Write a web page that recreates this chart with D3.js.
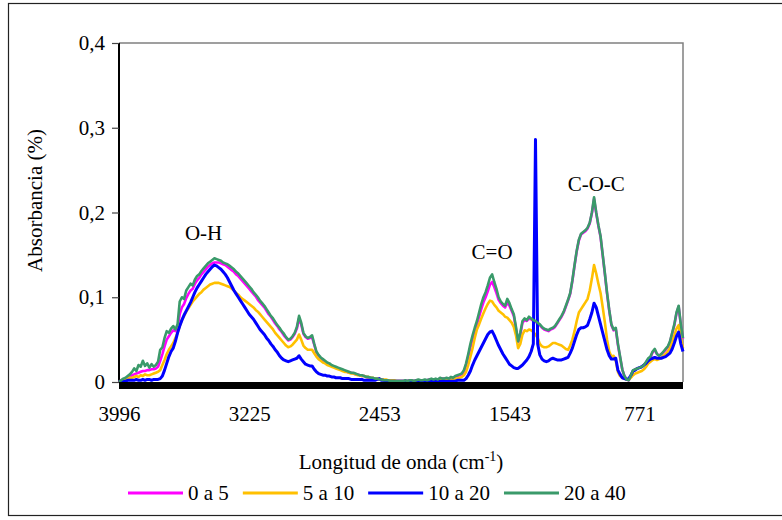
<!DOCTYPE html>
<html>
<head>
<meta charset="utf-8">
<script src="https://cdn.jsdelivr.net/npm/d3@7"></script>
<style>
  body { margin: 0; background: #fff; }
  text { font-family: "Liberation Serif", "Times New Roman", serif; fill: #000; }
</style>
</head>
<body>
<div id="chart"></div>
<script>
// FTIR spectra, absorbance per wavenumber category
const seriesNames = ["0 a 5", "5 a 10", "10 a 20", "20 a 40"];
const seriesColors = ["#ff00ff", "#ffc000", "#0000ff", "#3a9a6a"];

const absorb0a5 = [
  0.000, 0.002, 0.003, 0.004, 0.005, 0.006, 0.008, 0.009, 0.010, 0.011,
  0.012, 0.013, 0.013, 0.014, 0.014, 0.015, 0.015, 0.016, 0.018, 0.025,
  0.033, 0.042, 0.050, 0.054, 0.058, 0.061, 0.060, 0.065, 0.080, 0.088,
  0.092, 0.099, 0.104, 0.108, 0.110, 0.116, 0.120, 0.123, 0.127, 0.130,
  0.133, 0.136, 0.138, 0.140, 0.141, 0.141, 0.141, 0.140, 0.139, 0.138,
  0.136, 0.134, 0.132, 0.130, 0.127, 0.125, 0.122, 0.119, 0.116, 0.113,
  0.110, 0.107, 0.104, 0.101, 0.097, 0.094, 0.091, 0.088, 0.084, 0.080,
  0.077, 0.073, 0.069, 0.066, 0.062, 0.059, 0.055, 0.052, 0.049, 0.050,
  0.053, 0.057, 0.063, 0.075, 0.068, 0.057, 0.053, 0.051, 0.052, 0.053,
  0.044, 0.035, 0.031, 0.028, 0.026, 0.024, 0.022, 0.021, 0.019, 0.018,
  0.017, 0.016, 0.015, 0.014, 0.013, 0.012, 0.011, 0.011, 0.010, 0.009,
  0.009, 0.008, 0.007, 0.007, 0.006, 0.005, 0.005, 0.004, 0.004, 0.003,
  0.003, 0.003, 0.002, 0.002, 0.002, 0.001, 0.001, 0.001, 0.001, 0.001,
  0.001, 0.001, 0.001, 0.001, 0.002, 0.001, 0.001, 0.002, 0.002, 0.002,
  0.002, 0.002, 0.002, 0.003, 0.003, 0.003, 0.003, 0.003, 0.004, 0.004,
  0.004, 0.004, 0.004, 0.005, 0.005, 0.006, 0.007, 0.008, 0.009, 0.012,
  0.020, 0.030, 0.041, 0.051, 0.060, 0.068, 0.077, 0.086, 0.094, 0.100,
  0.107, 0.115, 0.118, 0.112, 0.105, 0.097, 0.093, 0.090, 0.088, 0.094,
  0.090, 0.084, 0.078, 0.063, 0.047, 0.056, 0.070, 0.073, 0.072, 0.075,
  0.074, 0.072, 0.071, 0.069, 0.067, 0.064, 0.062, 0.061, 0.060, 0.062,
  0.063, 0.065, 0.069, 0.073, 0.077, 0.082, 0.089, 0.096, 0.104, 0.119,
  0.137, 0.154, 0.167, 0.174, 0.176, 0.178, 0.181, 0.187, 0.199, 0.216,
  0.199, 0.184, 0.171, 0.149, 0.127, 0.104, 0.084, 0.067, 0.061, 0.063,
  0.044, 0.029, 0.015, 0.007, 0.003, 0.002, 0.008, 0.013, 0.015, 0.016,
  0.017, 0.018, 0.020, 0.023, 0.027, 0.029, 0.035, 0.038, 0.033, 0.031,
  0.033, 0.035, 0.038, 0.041, 0.047, 0.057, 0.067, 0.081, 0.089, 0.067,
  0.051
];

const absorb5a10 = [
  0.000, 0.001, 0.002, 0.003, 0.004, 0.005, 0.005, 0.006, 0.007, 0.006,
  0.008, 0.007, 0.009, 0.008, 0.008, 0.009, 0.010, 0.011, 0.012, 0.014,
  0.020, 0.026, 0.033, 0.038, 0.042, 0.046, 0.052, 0.058, 0.066, 0.073,
  0.078, 0.083, 0.087, 0.091, 0.095, 0.098, 0.101, 0.104, 0.106, 0.109,
  0.111, 0.113, 0.115, 0.116, 0.117, 0.117, 0.117, 0.116, 0.115, 0.114,
  0.113, 0.112, 0.110, 0.108, 0.105, 0.103, 0.100, 0.098, 0.096, 0.094,
  0.092, 0.090, 0.088, 0.085, 0.083, 0.080, 0.077, 0.074, 0.071, 0.068,
  0.065, 0.062, 0.058, 0.055, 0.052, 0.049, 0.046, 0.043, 0.041, 0.042,
  0.044, 0.047, 0.050, 0.056, 0.050, 0.043, 0.040, 0.038, 0.038, 0.038,
  0.034, 0.030, 0.027, 0.025, 0.023, 0.022, 0.020, 0.019, 0.018, 0.017,
  0.016, 0.015, 0.014, 0.013, 0.012, 0.012, 0.011, 0.010, 0.010, 0.009,
  0.008, 0.008, 0.007, 0.007, 0.006, 0.006, 0.005, 0.005, 0.004, 0.004,
  0.004, 0.003, 0.003, 0.003, 0.002, 0.002, 0.002, 0.002, 0.001, 0.001,
  0.001, 0.001, 0.001, 0.001, 0.001, 0.001, 0.001, 0.001, 0.002, 0.001,
  0.001, 0.002, 0.001, 0.002, 0.002, 0.002, 0.002, 0.002, 0.002, 0.002,
  0.002, 0.002, 0.003, 0.003, 0.003, 0.004, 0.004, 0.005, 0.006, 0.008,
  0.012, 0.020, 0.030, 0.040, 0.052, 0.062, 0.068, 0.075, 0.081, 0.087,
  0.092, 0.096, 0.095, 0.091, 0.088, 0.084, 0.082, 0.080, 0.077, 0.076,
  0.073, 0.070, 0.065, 0.055, 0.040, 0.045, 0.056, 0.061, 0.060, 0.062,
  0.061, 0.059, 0.056, 0.052, 0.045, 0.042, 0.041, 0.041, 0.042, 0.044,
  0.046, 0.046, 0.045, 0.044, 0.043, 0.041, 0.039, 0.038, 0.043, 0.050,
  0.060, 0.072, 0.082, 0.086, 0.090, 0.094, 0.098, 0.108, 0.122, 0.138,
  0.128, 0.116, 0.105, 0.088, 0.070, 0.050, 0.036, 0.030, 0.031, 0.025,
  0.012, 0.007, 0.005, 0.004, 0.003, 0.003, 0.005, 0.008, 0.010, 0.011,
  0.012, 0.013, 0.015, 0.018, 0.022, 0.024, 0.026, 0.027, 0.026, 0.027,
  0.029, 0.031, 0.033, 0.036, 0.040, 0.047, 0.055, 0.063, 0.067, 0.052,
  0.040
];

const absorb10a20 = [
  0.000, 0.001, 0.001, 0.001, 0.002, 0.002, 0.002, 0.002, 0.003, 0.002,
  0.002, 0.003, 0.002, 0.003, 0.003, 0.002, 0.003, 0.003, 0.003, 0.004,
  0.007, 0.014, 0.022, 0.030, 0.036, 0.040, 0.048, 0.058, 0.066, 0.073,
  0.079, 0.084, 0.089, 0.094, 0.100, 0.106, 0.111, 0.115, 0.119, 0.123,
  0.127, 0.130, 0.133, 0.136, 0.138, 0.137, 0.135, 0.133, 0.130, 0.127,
  0.123, 0.118, 0.113, 0.108, 0.104, 0.100, 0.096, 0.092, 0.088, 0.084,
  0.080, 0.077, 0.074, 0.070, 0.066, 0.062, 0.059, 0.056, 0.052, 0.049,
  0.045, 0.042, 0.038, 0.035, 0.031, 0.028, 0.026, 0.025, 0.024, 0.025,
  0.026, 0.027, 0.028, 0.031, 0.027, 0.024, 0.021, 0.020, 0.019, 0.019,
  0.015, 0.012, 0.010, 0.009, 0.008, 0.008, 0.007, 0.007, 0.006, 0.006,
  0.005, 0.005, 0.005, 0.004, 0.004, 0.004, 0.004, 0.003, 0.003, 0.003,
  0.003, 0.003, 0.003, 0.002, 0.002, 0.002, 0.002, 0.002, 0.002, 0.003,
  0.004, 0.002, 0.002, 0.001, 0.001, 0.001, 0.001, 0.001, 0.001, 0.001,
  0.001, 0.001, 0.001, 0.001, 0.001, 0.001, 0.001, 0.001, 0.001, 0.001,
  0.001, 0.001, 0.001, 0.001, 0.001, 0.001, 0.001, 0.001, 0.001, 0.001,
  0.001, 0.001, 0.001, 0.001, 0.001, 0.001, 0.002, 0.002, 0.002, 0.002,
  0.004, 0.008, 0.013, 0.020, 0.026, 0.031, 0.036, 0.041, 0.046, 0.051,
  0.056, 0.059, 0.060, 0.055, 0.049, 0.043, 0.038, 0.033, 0.029, 0.025,
  0.021, 0.019, 0.017, 0.016, 0.016, 0.018, 0.020, 0.023, 0.026, 0.030,
  0.036, 0.045, 0.286, 0.045, 0.032, 0.027, 0.025, 0.024, 0.025, 0.027,
  0.028, 0.027, 0.026, 0.026, 0.026, 0.027, 0.028, 0.029, 0.034, 0.040,
  0.048, 0.056, 0.062, 0.064, 0.064, 0.065, 0.067, 0.074, 0.082, 0.093,
  0.088, 0.078, 0.068, 0.058, 0.048, 0.038, 0.031, 0.027, 0.027, 0.028,
  0.014, 0.009, 0.005, 0.004, 0.003, 0.004, 0.008, 0.013, 0.014, 0.016,
  0.017, 0.018, 0.020, 0.022, 0.025, 0.027, 0.028, 0.029, 0.028, 0.028,
  0.028, 0.029, 0.030, 0.032, 0.034, 0.039, 0.046, 0.054, 0.059, 0.045,
  0.036
];

const absorb20a40 = [
  0.000, 0.002, 0.004, 0.005, 0.007, 0.009, 0.012, 0.016, 0.013, 0.020,
  0.018, 0.025, 0.019, 0.022, 0.017, 0.021, 0.018, 0.020, 0.024, 0.038,
  0.041, 0.052, 0.060, 0.058, 0.063, 0.066, 0.062, 0.068, 0.095, 0.100,
  0.098, 0.108, 0.112, 0.116, 0.114, 0.121, 0.125, 0.127, 0.131, 0.134,
  0.137, 0.140, 0.142, 0.144, 0.146, 0.145, 0.144, 0.143, 0.141, 0.140,
  0.139, 0.137, 0.135, 0.133, 0.130, 0.128, 0.125, 0.122, 0.119, 0.116,
  0.113, 0.110, 0.106, 0.103, 0.100, 0.096, 0.093, 0.090, 0.086, 0.082,
  0.078, 0.075, 0.071, 0.067, 0.064, 0.060, 0.057, 0.053, 0.050, 0.051,
  0.054, 0.058, 0.065, 0.078, 0.070, 0.058, 0.054, 0.052, 0.053, 0.055,
  0.045, 0.036, 0.032, 0.029, 0.027, 0.025, 0.023, 0.022, 0.020, 0.019,
  0.018, 0.017, 0.016, 0.015, 0.014, 0.013, 0.012, 0.011, 0.011, 0.010,
  0.009, 0.008, 0.008, 0.007, 0.006, 0.006, 0.005, 0.005, 0.004, 0.004,
  0.003, 0.003, 0.002, 0.002, 0.002, 0.001, 0.001, 0.001, 0.001, 0.001,
  0.001, 0.001, 0.002, 0.001, 0.002, 0.002, 0.001, 0.002, 0.003, 0.002,
  0.002, 0.003, 0.002, 0.003, 0.004, 0.003, 0.004, 0.003, 0.005, 0.004,
  0.004, 0.005, 0.004, 0.006, 0.005, 0.007, 0.008, 0.009, 0.010, 0.014,
  0.022, 0.033, 0.045, 0.055, 0.064, 0.072, 0.082, 0.092, 0.100, 0.106,
  0.114, 0.123, 0.127, 0.118, 0.110, 0.100, 0.095, 0.092, 0.090, 0.098,
  0.093, 0.086, 0.080, 0.065, 0.048, 0.058, 0.072, 0.075, 0.073, 0.077,
  0.075, 0.073, 0.072, 0.070, 0.068, 0.065, 0.063, 0.062, 0.061, 0.063,
  0.064, 0.066, 0.070, 0.074, 0.078, 0.083, 0.090, 0.097, 0.105, 0.120,
  0.138, 0.155, 0.168, 0.175, 0.177, 0.179, 0.182, 0.188, 0.200, 0.218,
  0.200, 0.185, 0.172, 0.150, 0.128, 0.105, 0.085, 0.068, 0.062, 0.064,
  0.045, 0.030, 0.015, 0.007, 0.003, 0.002, 0.008, 0.014, 0.015, 0.016,
  0.017, 0.018, 0.020, 0.024, 0.028, 0.030, 0.036, 0.039, 0.033, 0.031,
  0.033, 0.036, 0.039, 0.042, 0.048, 0.058, 0.068, 0.082, 0.090, 0.068,
  0.052
];

// category axis: a label every 60 categories
const tickIndex = [0, 60, 120, 180, 240];
const tickLabels = ["3996", "3225", "2453", "1543", "771"];
const yTicks = [0, 0.1, 0.2, 0.3, 0.4];

// band labels: [text, category index, absorbance]
const bandText = ["O-H", "C=O", "C-O-C"];
const bandIndex = [39, 172, 220];
const bandValue = [0.176, 0.153, 0.234];

const drawSpectra = () => {
  const width = 782;
  const height = 520;
  const margin = { top: 43, right: 99, bottom: 138, left: 119 };
  const innerWidth = width - margin.left - margin.right;
  const innerHeight = height - margin.top - margin.bottom;

  const allSeries = [absorb0a5, absorb5a10, absorb10a20, absorb20a40];
  const nPoints = absorb0a5.length;

  const svg = d3.select("#chart")
    .append("svg")
    .attr("width", width)
    .attr("height", height);

  // outer frame
  svg.append("rect")
    .attr("x", 8.5).attr("y", 3.5)
    .attr("width", 790).attr("height", 512)
    .attr("fill", "none")
    .attr("stroke", "#222")
    .attr("stroke-width", 1.2);

  const inner = svg.append("g")
    .attr("transform", `translate(${margin.left}, ${margin.top})`);

  const xScale = d3.scaleLinear()
    .domain([0, nPoints - 1])
    .range([0, innerWidth]);

  const yScale = d3.scaleLinear()
    .domain([0, 0.4])
    .range([innerHeight, 0]);

  // plot area border (top and right)
  inner.append("path")
    .attr("d", `M0,0H${innerWidth}V${innerHeight}`)
    .attr("fill", "none")
    .attr("stroke", "#808080")
    .attr("stroke-width", 1.5);

  // y axis
  const fmt = d3.formatLocale({ decimal: ",", thousands: ".", grouping: [3], currency: ["", ""] }).format(".1f");
  const leftAxis = d3.axisLeft(yScale)
    .tickValues(yTicks)
    .tickSize(7)
    .tickPadding(7)
    .tickFormat(d => d === 0 ? "0" : fmt(d));
  const yAxisG = inner.append("g").call(leftAxis);
  yAxisG.select(".domain").attr("stroke", "#000").attr("stroke-width", 2)
    .attr("d", `M0,0V${innerHeight}`);
  yAxisG.selectAll(".tick line").attr("stroke", "#444").attr("stroke-width", 1.2);
  yAxisG.selectAll(".tick text")
    .style("font-family", "Liberation Serif")
    .style("font-size", "21px");

  // x axis (category labels)
  const bottomAxis = d3.axisBottom(xScale)
    .tickValues(tickIndex)
    .tickSize(0)
    .tickPadding(24)
    .tickFormat((d, i) => tickLabels[i]);
  const xAxisG = inner.append("g")
    .attr("transform", `translate(0, ${innerHeight})`)
    .call(bottomAxis);
  xAxisG.select(".domain").remove();
  xAxisG.selectAll(".tick text")
    .style("font-family", "Liberation Serif")
    .style("font-size", "21px");

  // spectra
  const line = d3.line()
    .x((d, i) => xScale(i))
    .y(d => yScale(d));

  inner.append("g")
    .selectAll("path")
    .data(allSeries)
    .join("path")
    .attr("d", line)
    .attr("fill", "none")
    .attr("stroke", (d, i) => seriesColors[i])
    .attr("stroke-width", (d, i) => i === 2 ? 3 : 2.6)
    .attr("stroke-linejoin", "round");

  // heavy baseline
  inner.append("rect")
    .attr("x", 0)
    .attr("y", yScale(0))
    .attr("width", innerWidth)
    .attr("height", 7)
    .attr("fill", "#000");

  // band labels
  inner.append("g")
    .selectAll("text")
    .data(bandText)
    .join("text")
    .attr("x", (d, i) => xScale(bandIndex[i]))
    .attr("y", (d, i) => yScale(bandValue[i]))
    .attr("text-anchor", "middle")
    .attr("dominant-baseline", "central")
    .style("font-size", "21px")
    .text(d => d);

  // axis titles
  svg.append("text")
    .attr("transform", `translate(35, ${margin.top + innerHeight / 2 - 12}) rotate(-90)`)
    .attr("text-anchor", "middle")
    .attr("dominant-baseline", "central")
    .style("font-size", "21px")
    .text("Absorbancia (%)");

  const xTitle = svg.append("text")
    .attr("x", 401)
    .attr("y", 469)
    .attr("text-anchor", "middle")
    .style("font-size", "21px");
  xTitle.append("tspan").text("Longitud de onda (cm");
  xTitle.append("tspan").attr("dy", -8).style("font-size", "14px").text("-1");
  xTitle.append("tspan").attr("dy", 8).text(")");

  // legend
  const legend = svg.append("g").attr("transform", "translate(128, 493)");
  let xPos = 0;
  seriesNames.forEach((name, i) => {
    const item = legend.append("g").attr("transform", `translate(${xPos}, 0)`);
    item.append("line")
      .attr("x1", 0).attr("x2", 55)
      .attr("stroke", seriesColors[i])
      .attr("stroke-width", 3);
    const t = item.append("text")
      .attr("x", 60)
      .attr("dominant-baseline", "central")
      .style("font-size", "21px")
      .text(name);
    xPos += 60 + t.node().getComputedTextLength() + 14;
  });
};

drawSpectra();
</script>
</body>
</html>
